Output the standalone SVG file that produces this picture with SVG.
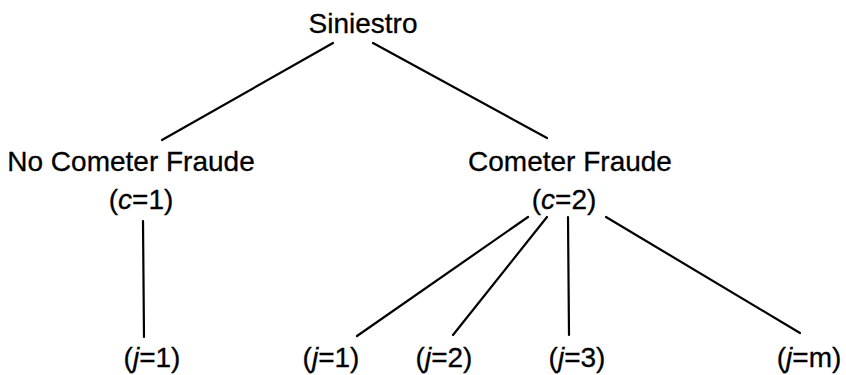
<svg xmlns="http://www.w3.org/2000/svg" width="846" height="375" viewBox="0 0 846 375">
<style>
text{font-family:"Liberation Sans",Arial,sans-serif;font-size:28px;fill:#000;text-anchor:middle;stroke:#000;stroke-width:0.3}
.i{font-style:italic}
line{stroke:#000;stroke-width:2.2;stroke-linecap:round}
</style>
<rect width="846" height="375" fill="#fff"/>
<g id="connectors">
<line x1="333" y1="43" x2="162" y2="140"/>
<line x1="373" y1="43" x2="547" y2="138"/>
<line x1="143" y1="221" x2="144" y2="337"/>
<line x1="528" y1="217" x2="357" y2="336"/>
<line x1="547" y1="217" x2="453" y2="335"/>
<line x1="568" y1="217" x2="569" y2="335"/>
<line x1="606" y1="217" x2="800" y2="333"/>
</g>
<g id="n-siniestro"><text x="363" y="33">Siniestro</text></g>
<g id="n-nocometer"><text x="131" y="171">No Cometer Fraude</text><text x="141" y="209">(<tspan class="i">c</tspan>=1)</text></g>
<g id="n-cometer"><text x="570" y="171">Cometer Fraude</text><text x="564" y="209">(<tspan class="i">c</tspan>=2)</text></g>
<g id="n-j1a"><text x="152" y="367">(<tspan class="i">j</tspan>=1)</text></g>
<g id="n-j1b"><text x="331" y="367">(<tspan class="i">j</tspan>=1)</text></g>
<g id="n-j2"><text x="444" y="367">(<tspan class="i">j</tspan>=2)</text></g>
<g id="n-j3"><text x="577" y="367">(<tspan class="i">j</tspan>=3)</text></g>
<g id="n-jm"><text x="809" y="367">(<tspan class="i">j</tspan>=m)</text></g>
</svg>
